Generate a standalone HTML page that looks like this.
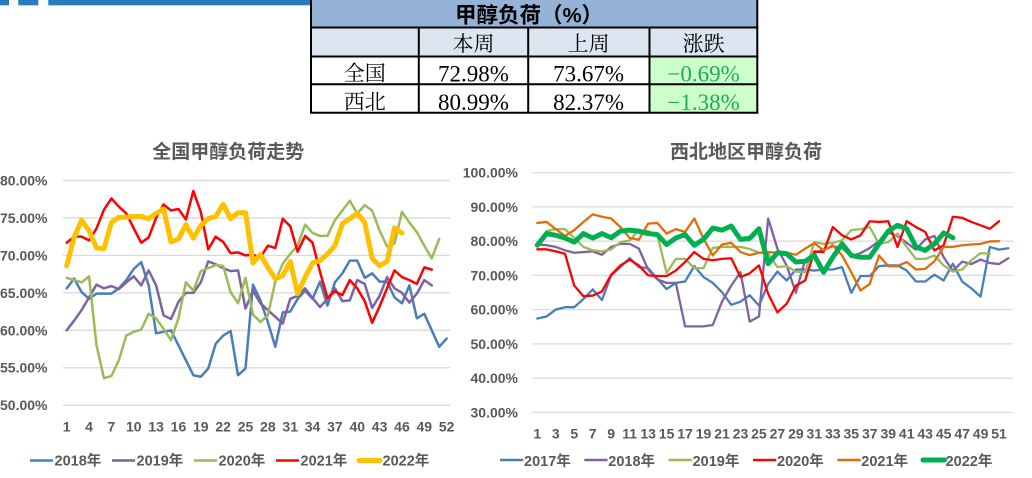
<!DOCTYPE html>
<html>
<head>
<meta charset="utf-8">
<style>
  html,body{margin:0;padding:0;background:#fff;}
  body{width:1032px;height:478px;overflow:hidden;position:relative;}
  svg{display:block;}
  .ax{font-family:"Liberation Sans","Noto Sans CJK SC",sans-serif;font-weight:bold;fill:#595959;}
  .cjk{font-family:"Liberation Sans","Noto Sans CJK SC",sans-serif;}
  .serif{font-family:"Liberation Serif","Noto Serif CJK SC",serif;}
</style>
</head>
<body>
<svg width="1032" height="478" viewBox="0 0 1032 478" xmlns="http://www.w3.org/2000/svg">
  <!-- top blue bar -->
  <rect x="0" y="0" width="9" height="5.3" fill="#2a7ac0"/>
  <rect x="18.3" y="0" width="20" height="5.3" fill="#2a7ac0"/>
  <rect x="48.3" y="0" width="262" height="5.3" fill="#2a7ac0"/>

  <!-- TABLE -->
  <rect x="310" y="0" width="448" height="27.5" fill="#95b3d7"/>
  <rect x="310" y="27.5" width="448" height="29" fill="#dce6f1"/>
  <rect x="310" y="56.5" width="448" height="56.5" fill="#ffffff"/>
  <rect x="649.5" y="56.5" width="108" height="56.5" fill="#ccffcc"/>
  <g stroke="#000" stroke-width="2" fill="none">
    <line x1="311" y1="0" x2="311" y2="113.5"/>
    <line x1="757.3" y1="0" x2="757.3" y2="113.5"/>
    <line x1="310" y1="27.5" x2="758.3" y2="27.5"/>
    <line x1="310" y1="56.5" x2="758.3" y2="56.5"/>
    <line x1="310" y1="84.3" x2="758.3" y2="84.3"/>
    <line x1="310" y1="112.7" x2="758.3" y2="112.7"/>
    <line x1="418.8" y1="27.5" x2="418.8" y2="113.5"/>
    <line x1="528.2" y1="27.5" x2="528.2" y2="113.5"/>
    <line x1="649.5" y1="27.5" x2="649.5" y2="113.5"/>
  </g>
  <text x="529" y="22.5" text-anchor="middle" class="cjk" font-weight="bold" font-size="21.5" fill="#000">甲醇负荷（%）</text>
  <g class="serif" font-size="21" fill="#000" text-anchor="middle">
    <text x="473.5" y="51">本周</text>
    <text x="588.6" y="51">上周</text>
    <text x="703.6" y="51">涨跌</text>
    <text x="364.8" y="80.5">全国</text>
    <text x="364.8" y="109">西北</text>
  </g>
  <g class="serif" font-size="23" text-anchor="middle">
    <text x="473.5" y="81.5" fill="#000">72.98%</text>
    <text x="588.6" y="81.5" fill="#000">73.67%</text>
    <text x="703.6" y="81.5" fill="#1fae4b">−0.69%</text>
    <text x="473.5" y="110" fill="#000">80.99%</text>
    <text x="588.6" y="110" fill="#000">82.37%</text>
    <text x="703.6" y="110" fill="#1fae4b">−1.38%</text>
  </g>

  <!-- LEFT CHART -->
  <text x="228.3" y="158" text-anchor="middle" class="ax" font-size="19">全国甲醇负荷走势</text>
  <g stroke="#d9d9d9" stroke-width="1.3">
    <line x1="63" y1="180.5" x2="450" y2="180.5"/>
    <line x1="63" y1="217.95" x2="450" y2="217.95"/>
    <line x1="63" y1="255.4" x2="450" y2="255.4"/>
    <line x1="63" y1="292.85" x2="450" y2="292.85"/>
    <line x1="63" y1="330.3" x2="450" y2="330.3"/>
    <line x1="63" y1="367.75" x2="450" y2="367.75"/>
    <line x1="63" y1="405.2" x2="450" y2="405.2"/>
  </g>
  <g class="ax" font-size="14" text-anchor="end">
    <text x="47.5" y="185.5">80.00%</text>
    <text x="47.5" y="222.9">75.00%</text>
    <text x="47.5" y="260.4">70.00%</text>
    <text x="47.5" y="297.8">65.00%</text>
    <text x="47.5" y="335.3">60.00%</text>
    <text x="47.5" y="372.7">55.00%</text>
    <text x="47.5" y="410.2">50.00%</text>
  </g>
  <g class="ax" font-size="14" text-anchor="middle">
    <text x="66.7" y="431.5">1</text>
    <text x="89.05" y="431.5">4</text>
    <text x="111.4" y="431.5">7</text>
    <text x="133.75" y="431.5">10</text>
    <text x="156.1" y="431.5">13</text>
    <text x="178.45" y="431.5">16</text>
    <text x="200.8" y="431.5">19</text>
    <text x="223.15" y="431.5">22</text>
    <text x="245.5" y="431.5">25</text>
    <text x="267.85" y="431.5">28</text>
    <text x="290.2" y="431.5">31</text>
    <text x="312.55" y="431.5">34</text>
    <text x="334.9" y="431.5">37</text>
    <text x="357.25" y="431.5">40</text>
    <text x="379.6" y="431.5">43</text>
    <text x="401.95" y="431.5">46</text>
    <text x="424.3" y="431.5">49</text>
    <text x="446.65" y="431.5">52</text>
  </g>
  <g transform="matrix(7.45,0,0,-7.49,59.25,779.7)" fill="none" stroke-linejoin="round" stroke-linecap="round">
    <polyline vector-effect="non-scaling-stroke" stroke="#4a7ebb" stroke-width="2.5" points="1,65.6 2,66.9 3,65.1 4,64.2 5,64.9 6,64.9 7,64.9 8,65.6 9,66.7 10,68.2 11,69.1 12,66.0 13,59.6 14,59.8 15,60.0 16,58.0 17,56.0 18,54.0 19,53.8 20,54.9 21,58.2 22,59.3 23,59.9 24,54.0 25,54.9 26,66.1 27,64.0 28,61.1 29,57.8 30,62.4 31,62.5 32,64.2 33,65.3 34,64.2 35,66.5 36,63.3 37,66.4 38,67.6 39,69.3 40,69.3 41,67.0 42,67.6 43,66.5 44,66.5 45,64.4 46,63.6 47,66.0 48,61.6 49,62.2 50,60.0 51,57.8 52,58.9"/>
    <polyline vector-effect="non-scaling-stroke" stroke="#7e62a1" stroke-width="2.5" points="1,60.0 2,61.3 3,62.7 4,64.4 5,66.1 6,65.6 7,65.9 8,65.5 9,66.4 10,67.2 11,66.0 12,68.0 13,66.0 14,62.0 15,61.5 16,63.8 17,65.0 18,65.0 19,66.4 20,69.2 21,68.8 22,68.3 23,67.9 24,68.0 25,62.9 26,65.3 27,63.6 28,62.7 29,61.8 30,60.9 31,64.2 32,64.6 33,65.6 34,64.3 35,63.1 36,64.2 37,65.6 38,63.9 39,64.0 40,66.7 41,66.2 42,63.0 43,64.6 44,67.1 45,65.6 46,65.0 47,63.7 48,64.9 49,66.7 50,66.0"/>
    <polyline vector-effect="non-scaling-stroke" stroke="#9bbb59" stroke-width="2.5" points="1,67.0 2,66.7 3,66.4 4,67.2 5,58.0 6,53.6 7,53.9 8,56.0 9,59.3 10,59.8 11,60.1 12,62.2 13,61.6 14,60.2 15,58.7 16,61.6 17,66.4 18,65.3 19,67.9 20,68.3 21,68.7 22,68.6 23,65.1 24,63.6 25,67.0 26,62.1 27,61.1 28,62.0 29,66.5 30,68.9 31,70.2 32,71.3 33,74.1 34,73.0 35,72.6 36,72.6 37,74.7 38,76.0 39,77.3 40,75.6 41,76.7 42,76.0 43,73.3 44,71.2 45,71.6 46,75.8 47,74.4 48,73.1 49,71.3 50,69.6 51,72.2"/>
    <polyline vector-effect="non-scaling-stroke" stroke="#ff0000" stroke-width="2.5" points="1,71.7 2,72.5 3,72.5 4,72.0 5,73.6 6,76.1 7,77.6 8,76.5 9,75.6 10,73.6 11,71.7 12,72.4 13,75.0 14,76.8 15,76.0 16,76.2 17,74.8 18,78.6 19,75.8 20,70.8 21,72.5 22,71.8 23,70.3 24,70.4 25,70.0 26,70.1 27,69.7 28,71.3 29,71.0 30,74.9 31,73.9 32,70.5 33,72.6 34,71.7 35,67.8 36,64.3 37,65.2 38,64.7 39,66.7 40,65.6 41,63.9 42,61.0 43,63.2 44,65.6 45,68.0 46,67.1 47,66.7 48,66.2 49,68.4 50,68.1"/>
    <polyline vector-effect="non-scaling-stroke" stroke="#ffc000" stroke-width="5" points="1,68.6 2,72.4 3,74.7 4,73.3 5,71.0 6,70.9 7,74.4 8,75.1 9,75.1 10,75.2 11,75.2 12,74.9 13,75.6 14,76.2 15,71.8 16,72.2 17,74.1 18,72.3 19,74.0 20,74.9 21,75.2 22,76.8 23,74.9 24,75.7 25,75.7 26,69.0 27,70.1 28,68.4 29,66.9 30,67.3 31,69.2 32,64.9 33,67.1 34,69.0 35,69.3 36,70.2 37,71.3 38,74.2 39,74.9 40,75.6 41,74.4 42,69.6 43,68.6 44,69.2 45,73.67 46,72.98"/>
  </g>
  <!-- left legend -->
  <g stroke-linecap="butt">
    <line x1="30" y1="460.5" x2="53" y2="460.5" stroke="#4a7ebb" stroke-width="2.5"/>
    <line x1="112" y1="460.5" x2="135" y2="460.5" stroke="#7e62a1" stroke-width="2.5"/>
    <line x1="194" y1="460.5" x2="217" y2="460.5" stroke="#9bbb59" stroke-width="2.5"/>
    <line x1="276" y1="460.5" x2="299" y2="460.5" stroke="#ff0000" stroke-width="2.5"/>
    <line x1="359" y1="460.5" x2="380" y2="460.5" stroke="#ffc000" stroke-width="5" stroke-linecap="round"/>
  </g>
  <g class="ax" font-size="14.5">
    <text x="54.5" y="465.5">2018年</text>
    <text x="136.5" y="465.5">2019年</text>
    <text x="218.5" y="465.5">2020年</text>
    <text x="300.5" y="465.5">2021年</text>
    <text x="382.5" y="465.5">2022年</text>
  </g>

  <!-- RIGHT CHART -->
  <text x="746" y="158" text-anchor="middle" class="ax" font-size="19">西北地区甲醇负荷</text>
  <g stroke="#d9d9d9" stroke-width="1.3">
    <line x1="532.7" y1="172.6" x2="1013" y2="172.6"/>
    <line x1="532.7" y1="206.85" x2="1013" y2="206.85"/>
    <line x1="532.7" y1="241.1" x2="1013" y2="241.1"/>
    <line x1="532.7" y1="275.35" x2="1013" y2="275.35"/>
    <line x1="532.7" y1="309.6" x2="1013" y2="309.6"/>
    <line x1="532.7" y1="343.85" x2="1013" y2="343.85"/>
    <line x1="532.7" y1="378.1" x2="1013" y2="378.1"/>
    <line x1="532.7" y1="412.35" x2="1013" y2="412.35"/>
  </g>
  <g class="ax" font-size="14" text-anchor="end">
    <text x="518" y="177.6">100.00%</text>
    <text x="518" y="211.8">90.00%</text>
    <text x="518" y="246.1">80.00%</text>
    <text x="518" y="280.3">70.00%</text>
    <text x="518" y="314.6">60.00%</text>
    <text x="518" y="348.8">50.00%</text>
    <text x="518" y="383.1">40.00%</text>
    <text x="518" y="417.3">30.00%</text>
  </g>
  <g class="ax" font-size="14" text-anchor="middle">
    <text x="537.3" y="438.3">1</text>
    <text x="555.77" y="438.3">3</text>
    <text x="574.24" y="438.3">5</text>
    <text x="592.71" y="438.3">7</text>
    <text x="611.18" y="438.3">9</text>
    <text x="629.65" y="438.3">11</text>
    <text x="648.12" y="438.3">13</text>
    <text x="666.59" y="438.3">15</text>
    <text x="685.06" y="438.3">17</text>
    <text x="703.53" y="438.3">19</text>
    <text x="722" y="438.3">21</text>
    <text x="740.47" y="438.3">23</text>
    <text x="758.94" y="438.3">25</text>
    <text x="777.41" y="438.3">27</text>
    <text x="795.88" y="438.3">29</text>
    <text x="814.35" y="438.3">31</text>
    <text x="832.82" y="438.3">33</text>
    <text x="851.29" y="438.3">35</text>
    <text x="869.76" y="438.3">37</text>
    <text x="888.23" y="438.3">39</text>
    <text x="906.7" y="438.3">41</text>
    <text x="925.17" y="438.3">43</text>
    <text x="943.64" y="438.3">45</text>
    <text x="962.11" y="438.3">47</text>
    <text x="980.58" y="438.3">49</text>
    <text x="999.05" y="438.3">51</text>
  </g>
  <g transform="matrix(9.235,0,0,-3.425,528.065,515.1)" fill="none" stroke-linejoin="round" stroke-linecap="round">
    <polyline vector-effect="non-scaling-stroke" stroke="#4a7ebb" stroke-width="2.3" points="1,57.4 2,58.0 3,60.0 4,60.7 5,60.7 6,63.1 7,65.9 8,62.8 9,70.0 10,72.4 11,75.0 12,72.4 13,72.1 14,69.0 15,66.0 16,67.8 17,68.2 18,72.7 19,69.5 20,67.8 21,65.1 22,61.4 23,62.3 24,64.2 25,61.2 26,67.5 27,71.1 28,68.5 29,71.7 30,71.7 31,71.4 32,71.7 33,71.7 34,72.4 35,64.9 36,69.8 37,69.8 38,72.7 39,72.9 40,72.9 41,71.4 42,68.2 43,68.2 44,70.2 45,68.5 46,73.4 47,68.2 48,66.2 49,63.8 50,78.3 51,77.5 52,77.9"/>
    <polyline vector-effect="non-scaling-stroke" stroke="#7e62a1" stroke-width="2.3" points="1,79.0 2,78.8 3,78.3 4,77.3 5,76.6 6,76.8 7,77.0 8,76.0 9,78.3 10,79.2 11,79.2 12,77.8 13,71.7 14,68.8 15,67.8 16,67.8 17,55.1 18,55.1 19,55.1 20,55.5 21,62.3 22,67.0 23,70.9 24,56.5 25,58.0 26,86.6 27,77.8 28,72.9 29,64.9 30,74.5 31,76.5 32,77.5 33,78.5 34,78.0 35,75.5 36,76.5 37,78.0 38,80.0 39,82.5 40,81.5 41,79.5 42,77.5 43,80.5 44,81.5 45,75.3 46,71.3 47,74.0 48,73.3 49,74.6 50,73.6 51,73.3 52,75.0"/>
    <polyline vector-effect="non-scaling-stroke" stroke="#9bbb59" stroke-width="2.3" points="1,78.8 2,82.9 3,83.5 4,83.5 5,80.9 6,78.3 7,77.3 8,77.0 9,77.6 10,79.7 11,80.2 12,83.2 13,82.9 14,81.8 15,70.7 16,74.8 17,74.8 18,72.1 19,72.1 20,78.0 21,78.3 22,78.3 23,78.3 24,77.7 25,76.6 26,76.3 27,72.4 28,72.7 29,71.1 30,70.9 31,79.7 32,79.2 33,79.5 34,80.2 35,83.2 36,83.5 37,84.1 38,79.2 39,79.7 40,82.2 41,78.3 42,74.8 43,74.8 44,75.8 45,72.9 46,71.1 47,71.7 48,74.4 49,76.5 50,76.3"/>
    <polyline vector-effect="non-scaling-stroke" stroke="#ff0000" stroke-width="2.3" points="1,77.6 2,77.6 3,77.0 4,76.3 5,67.0 6,63.9 7,64.1 8,65.3 9,70.2 10,72.9 11,74.6 12,72.9 13,70.0 14,69.8 15,69.8 16,71.4 17,73.9 18,76.8 19,74.8 20,74.4 21,74.8 22,75.0 23,69.5 24,70.6 25,72.9 26,64.6 27,59.2 28,61.7 29,67.0 30,68.5 31,77.0 32,76.8 33,84.1 34,81.7 35,80.5 36,81.7 37,85.8 38,85.6 39,85.8 40,78.3 41,85.8 42,84.1 43,82.7 44,77.3 45,78.8 46,87.1 47,86.8 48,85.6 49,84.6 50,83.6 51,85.8"/>
    <polyline vector-effect="non-scaling-stroke" stroke="#e46c0a" stroke-width="2.3" points="1,85.3 2,85.6 3,83.5 4,81.5 5,83.2 6,85.6 7,87.8 8,87.1 9,86.6 10,84.1 11,80.9 12,80.4 13,85.1 14,85.3 15,82.2 16,83.5 17,82.7 18,86.6 19,80.7 20,75.8 21,79.0 22,79.5 23,76.8 24,75.9 25,76.6 26,76.8 27,76.6 28,76.6 29,76.0 30,77.8 31,79.4 32,77.3 33,78.8 34,75.8 35,70.9 36,65.6 37,67.5 38,75.8 39,72.7 40,72.7 41,73.9 42,71.7 43,71.9 44,74.1 45,78.3 46,78.3 47,78.8 48,79.0 49,79.2 50,79.9 51,80.0"/>
    <polyline vector-effect="non-scaling-stroke" stroke="#00b050" stroke-width="5" points="1,78.8 2,82.2 3,81.7 4,80.9 5,79.7 6,82.2 7,80.9 8,82.2 9,81.0 10,82.9 11,83.2 12,82.9 13,82.2 14,81.9 15,79.0 16,80.9 17,81.9 18,78.8 19,80.5 20,83.8 21,83.2 22,84.4 23,80.5 24,80.8 25,83.6 26,73.4 27,76.6 28,76.3 29,73.9 30,74.1 31,75.8 32,70.9 33,75.3 34,79.2 35,75.8 36,75.3 37,75.3 38,79.2 39,82.9 40,84.6 41,83.6 42,78.3 43,77.3 44,79.2 45,82.37 46,80.99"/>
  </g>
  <!-- right legend -->
  <g stroke-linecap="butt">
    <line x1="500" y1="460" x2="523.3" y2="460" stroke="#4a7ebb" stroke-width="2.5"/>
    <line x1="584.3" y1="460" x2="607.6" y2="460" stroke="#7e62a1" stroke-width="2.5"/>
    <line x1="668.6" y1="460" x2="691.9" y2="460" stroke="#9bbb59" stroke-width="2.5"/>
    <line x1="753" y1="460" x2="776.3" y2="460" stroke="#ff0000" stroke-width="2.5"/>
    <line x1="837.3" y1="460" x2="860.6" y2="460" stroke="#e46c0a" stroke-width="2.5"/>
    <line x1="923" y1="460" x2="944.5" y2="460" stroke="#00b050" stroke-width="5" stroke-linecap="round"/>
  </g>
  <g class="ax" font-size="14.5">
    <text x="524" y="466">2017年</text>
    <text x="608.3" y="466">2018年</text>
    <text x="692.6" y="466">2019年</text>
    <text x="777" y="466">2020年</text>
    <text x="861.3" y="466">2021年</text>
    <text x="945.6" y="466">2022年</text>
  </g>
</svg>
</body>
</html>
